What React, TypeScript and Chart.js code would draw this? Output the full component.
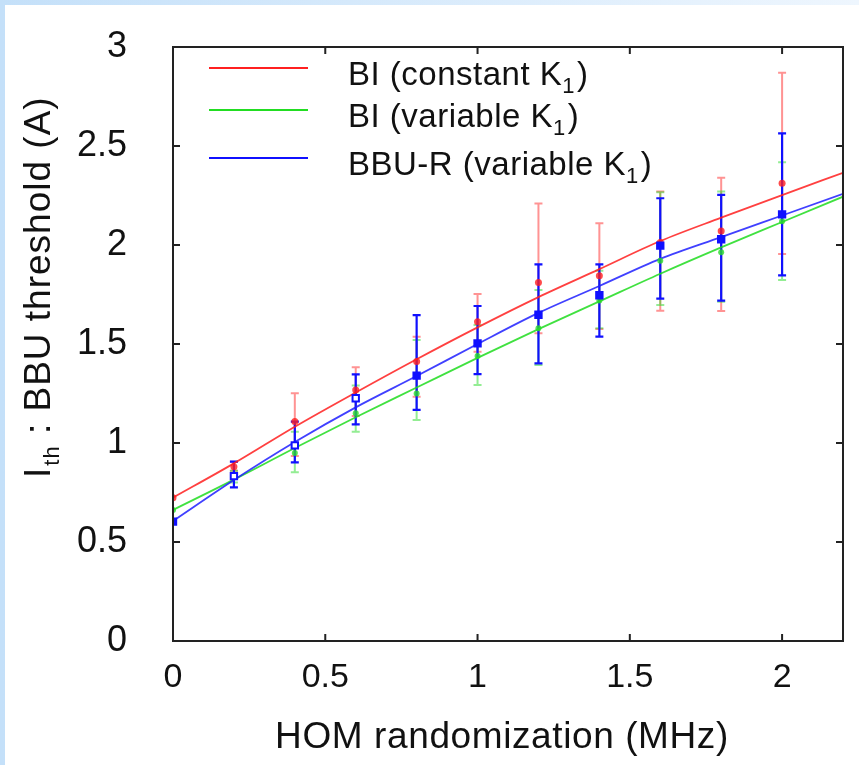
import React, { useEffect, useRef } from "react";
import { Chart, registerables } from "chart.js";
Chart.register(...registerables);

// ---- data ----
const curveX = [0, 0.2, 0.4, 0.6, 0.8, 1.0, 1.2, 1.4, 1.6, 1.8, 2.0, 2.2];
const redCurve = [0.724, 0.897, 1.082, 1.255, 1.423, 1.584, 1.737, 1.878, 2.02, 2.138, 2.252, 2.365];
const greenCurve = [0.662, 0.815, 0.975, 1.13, 1.28, 1.43, 1.575, 1.715, 1.855, 1.988, 2.116, 2.244];
const blueCurve = [0.606, 0.813, 1.005, 1.18, 1.338, 1.5, 1.657, 1.793, 1.93, 2.04, 2.149, 2.258];

const pointX = [0, 0.2, 0.4, 0.6, 0.8, 1.0, 1.2, 1.4, 1.6, 1.8, 2.0];
const redMean = [0.724, 0.88, 1.108, 1.268, 1.411, 1.613, 1.81, 1.845, 2.012, 2.071, 2.312];
const redLow = [0.724, 0.86, 0.934, 1.136, 1.234, 1.461, 1.554, 1.576, 1.668, 1.667, 1.955];
const redHigh = [0.724, 0.905, 1.251, 1.382, 1.537, 1.753, 2.21, 2.11, 2.27, 2.34, 2.87];
const greenMean = [0.662, 0.83, 0.95, 1.15, 1.25, 1.44, 1.58, 1.72, 1.92, 1.963, 2.12];
const greenLow = [0.662, 0.8, 0.852, 1.057, 1.116, 1.293, 1.394, 1.58, 1.697, 1.714, 1.823];
const greenHigh = [0.662, 0.86, 1.057, 1.29, 1.52, 1.596, 1.773, 1.87, 2.266, 2.27, 2.418];
const blueMean = [0.603, 0.833, 0.988, 1.226, 1.34, 1.503, 1.648, 1.746, 1.997, 2.029, 2.155];
const blueLow = [0.603, 0.776, 0.902, 1.094, 1.167, 1.348, 1.402, 1.537, 1.729, 1.719, 1.847];
const blueHigh = [0.603, 0.906, 1.108, 1.347, 1.646, 1.692, 1.902, 1.902, 2.236, 2.253, 2.564];
const blueHollow = [false, true, true, true, false, false, false, false, false, false, false];

const xTickValues = [0, 0.5, 1, 1.5, 2];
const yTickValues = [0, 0.5, 1, 1.5, 2, 2.5, 3];

const legendMain = ["BI (constant K", "BI (variable K", "BBU-R (variable K"];
const legendSub = ["1", "1", "1"];
const legendTail = [")", ")", ")"];
const xTitle = "HOM randomization (MHz)";
const yTitleMain = "I";
const yTitleSub = "th";
const yTitleRest = " : BBU threshold (A)";

const FONT = "'Liberation Sans', Arial, Helvetica, sans-serif";
const RED = "#ff2020";
const GREEN = "#22dd22";
const BLUE = "#1010ff";

const pts = (xs: number[], ys: number[]) => xs.map((x, i) => ({ x, y: ys[i] }));

const errorBarPlugin = {
  id: "errorBars",
  beforeDatasetsDraw(chart: any) {
    const { ctx, scales } = chart;
    const xs = scales.x, ys = scales.y;
    const sets = [
      { low: redLow, high: redHigh, color: "rgba(255,40,40,0.5)", w: 2 },
      { low: greenLow, high: greenHigh, color: "rgba(40,220,40,0.5)", w: 2 },
      { low: blueLow, high: blueHigh, color: BLUE, w: 2.2 },
    ];
    ctx.save();
    ctx.beginPath();
    ctx.rect(chart.chartArea.left, chart.chartArea.top, chart.chartArea.right - chart.chartArea.left, chart.chartArea.bottom - chart.chartArea.top);
    ctx.clip();
    for (const s of sets) {
      ctx.strokeStyle = s.color;
      ctx.lineWidth = s.w;
      for (let i = 0; i < pointX.length; i++) {
        if (s.high[i] - s.low[i] < 1e-6) continue;
        const px = xs.getPixelForValue(pointX[i]);
        const yl = ys.getPixelForValue(s.low[i]);
        const yh = ys.getPixelForValue(s.high[i]);
        ctx.beginPath();
        ctx.moveTo(px, yl);
        ctx.lineTo(px, yh);
        ctx.moveTo(px - 4, yl);
        ctx.lineTo(px + 4, yl);
        ctx.moveTo(px - 4, yh);
        ctx.lineTo(px + 4, yh);
        ctx.stroke();
      }
    }
    ctx.restore();
  },
};

const decorPlugin = {
  id: "decor",
  afterDraw(chart: any) {
    const { ctx, chartArea: a, scales } = chart;
    ctx.save();
    // frame
    ctx.strokeStyle = "#222";
    ctx.lineWidth = 2;
    ctx.strokeRect(a.left, a.top, a.right - a.left, a.bottom - a.top);
    // inward tick marks on all sides
    const tl = 7;
    ctx.beginPath();
    for (const t of scales.x.ticks) {
      const px = scales.x.getPixelForValue(t.value);
      ctx.moveTo(px, a.bottom);
      ctx.lineTo(px, a.bottom - tl);
      ctx.moveTo(px, a.top);
      ctx.lineTo(px, a.top + tl);
    }
    for (const t of scales.y.ticks) {
      const py = scales.y.getPixelForValue(t.value);
      ctx.moveTo(a.left, py);
      ctx.lineTo(a.left + tl, py);
      ctx.moveTo(a.right, py);
      ctx.lineTo(a.right - tl, py);
    }
    ctx.stroke();

    // legend
    const colors = [RED, GREEN, BLUE];
    const lineY = [68, 110, 158];
    const baseY = [85, 127, 175];
    (ctx as any).letterSpacing = "0.5px";
    for (let i = 0; i < 3; i++) {
      ctx.strokeStyle = colors[i];
      ctx.lineWidth = 2;
      ctx.beginPath();
      ctx.moveTo(209, lineY[i]);
      ctx.lineTo(308, lineY[i]);
      ctx.stroke();
      ctx.fillStyle = "#111";
      ctx.textBaseline = "alphabetic";
      ctx.textAlign = "left";
      ctx.font = `33px ${FONT}`;
      let x = 348;
      ctx.fillText(legendMain[i], x, baseY[i]);
      x += ctx.measureText(legendMain[i]).width;
      ctx.font = `22px ${FONT}`;
      ctx.fillText(legendSub[i], x, baseY[i] + 8);
      x += ctx.measureText(legendSub[i]).width + 2;
      ctx.font = `33px ${FONT}`;
      ctx.fillText(legendTail[i], x, baseY[i]);
    }

    // x title
    ctx.fillStyle = "#111";
    (ctx as any).letterSpacing = "0.6px";
    ctx.font = `37px ${FONT}`;
    ctx.textAlign = "center";
    ctx.textBaseline = "alphabetic";
    ctx.fillText(xTitle, 502, 748);

    // y title (rotated)
    (ctx as any).letterSpacing = "1px";
    ctx.translate(50, 478);
    ctx.rotate(-Math.PI / 2);
    ctx.textAlign = "left";
    let x = 0;
    ctx.font = `37px ${FONT}`;
    ctx.fillText(yTitleMain, x, 0);
    x += ctx.measureText(yTitleMain).width + 1;
    ctx.font = `22px ${FONT}`;
    ctx.fillText(yTitleSub, x, 9);
    x += ctx.measureText(yTitleSub).width;
    ctx.font = `37px ${FONT}`;
    ctx.fillText(yTitleRest, x, 0);
    ctx.restore();
  },
};

export default function App() {
  const ref = useRef<HTMLCanvasElement>(null);
  useEffect(() => {
    document.body.style.margin = "0";
    const chart = new Chart(ref.current as HTMLCanvasElement, {
      type: "scatter",
      data: {
        datasets: [
          { label: "BBU-R pts", data: pts(pointX, blueMean), pointStyle: "rect", pointRadius: 4.5, borderWidth: 2,
            borderColor: BLUE, backgroundColor: blueHollow.map((h) => (h ? "#ffffff" : BLUE)), order: 0 } as any,
          { label: "BI var pts", data: pts(pointX, greenMean), pointStyle: "circle", pointRadius: 3, borderWidth: 0,
            backgroundColor: "rgba(40,220,40,0.8)", order: 2 } as any,
          { label: "BI const pts", data: pts(pointX, redMean), pointStyle: "circle", pointRadius: 3.5, borderWidth: 0,
            backgroundColor: "rgba(255,30,30,0.8)", order: 1 } as any,
          { label: "BBU-R (variable K1)", data: pts(curveX, blueCurve), showLine: true, pointRadius: 0,
            borderColor: "rgba(30,30,255,0.85)", borderWidth: 1.8, cubicInterpolationMode: "monotone", order: 3 } as any,
          { label: "BI (variable K1)", data: pts(curveX, greenCurve), showLine: true, pointRadius: 0,
            borderColor: "rgba(30,220,30,0.85)", borderWidth: 1.8, cubicInterpolationMode: "monotone", order: 4 } as any,
          { label: "BI (constant K1)", data: pts(curveX, redCurve), showLine: true, pointRadius: 0,
            borderColor: "rgba(255,30,30,0.85)", borderWidth: 1.8, cubicInterpolationMode: "monotone", order: 5 } as any,
        ],
      },
      options: {
        responsive: false,
        devicePixelRatio: 1,
        animation: false,
        layout: { padding: { left: 0, right: 16, top: 47, bottom: 0 } },
        plugins: { legend: { display: false }, tooltip: { enabled: false } },
        scales: {
          x: {
            type: "linear", min: 0, max: 2.2,
            ticks: { color: "#111", font: { family: FONT, size: 34 }, padding: 16, maxRotation: 0, autoSkip: false,
              callback: (v: any) => `${v}` },
            grid: { display: false, drawTicks: false },
            border: { display: false },
            afterBuildTicks: (s: any) => { s.ticks = xTickValues.map((value) => ({ value })); },
            afterFit: (s: any) => { s.height = 124; s.paddingLeft = 0; s.paddingRight = 0; },
          },
          y: {
            type: "linear", min: 0, max: 3,
            ticks: { color: "#111", font: { family: FONT, size: 36 }, padding: 46, autoSkip: false,
              callback: (v: any) => `${v}` },
            grid: { display: false, drawTicks: false },
            border: { display: false },
            afterBuildTicks: (s: any) => { s.ticks = yTickValues.map((value) => ({ value })); },
            afterFit: (s: any) => { s.width = 173; s.paddingTop = 0; s.paddingBottom = 0; },
          },
        },
      } as any,
      plugins: [errorBarPlugin, decorPlugin],
    });
    return () => chart.destroy();
  }, []);
  return (
    <div style={{ position: "relative", width: 859, height: 765, overflow: "hidden",
      background: "linear-gradient(to right, #c4e0f9, #eef6fe)" }}>
      <div style={{ position: "absolute", left: 5, top: 5, right: 0, bottom: 0, background: "#ffffff" }} />
      <canvas ref={ref} width={859} height={765} style={{ position: "absolute", left: 0, top: 0 }} />
    </div>
  );
}
